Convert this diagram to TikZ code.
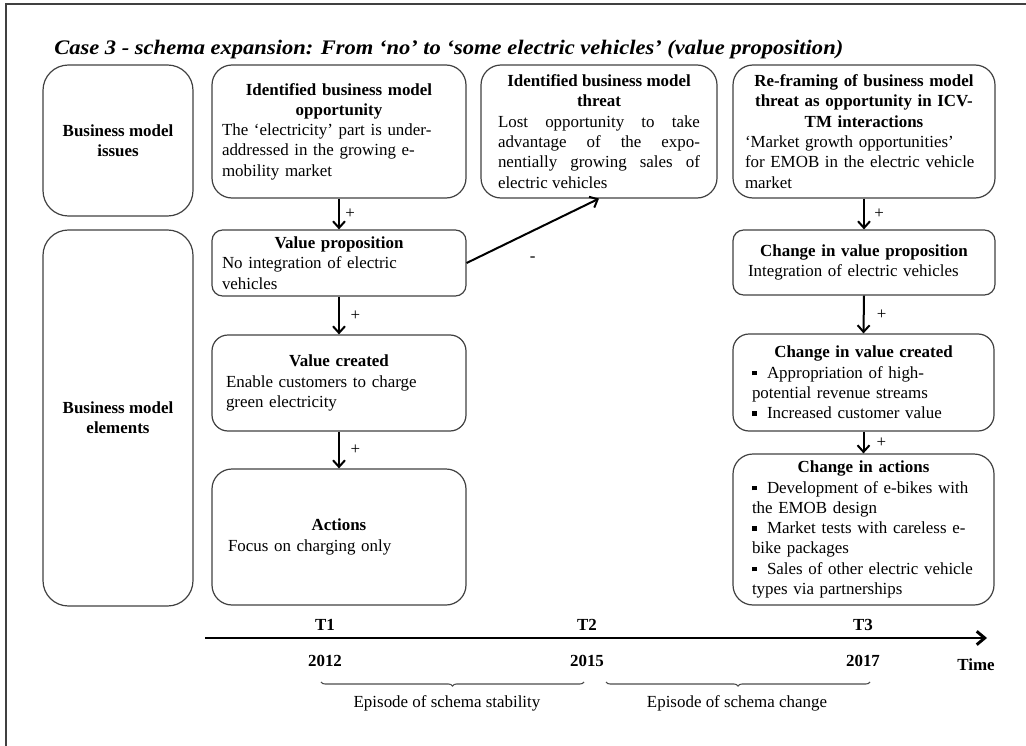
\documentclass[tikz,border=0pt]{standalone}
\usepackage{fontspec}
\usepackage{graphicx}
\setmainfont{Liberation Serif}
\usetikzlibrary{arrows.meta,decorations.pathreplacing}
\newcommand\bodyfont{\fontsize{12.7pt}{15.2pt}\selectfont}
\newcommand\titlefont{\fontsize{15.5pt}{17pt}\selectfont\bfseries\itshape}
\newcommand\bul{\makebox[11.25pt][l]{\rule[2pt]{3.6pt}{3.6pt}}}
\newcommand\bitem{\hangindent=11.25pt\hangafter=1\noindent\bul}
\tikzset{
  box/.style={draw=black!75, line width=0.9pt, inner xsep=0pt, inner ysep=0pt, font=\bodyfont},
  side/.style={box, rounded corners=19pt, align=center, minimum width={150*0.75pt}},
  arr/.style={line width=1.5pt, -{Straight Barb[length=5pt,width=9pt]}},
  pl/.style={font=\bodyfont, inner sep=0pt},
  tl/.style={line width=2.2pt, -{Straight Barb[length=6pt,width=10pt]}},
  tlab/.style={font=\bodyfont\bfseries, inner sep=0pt},
  brc/.style={line width=0.8pt, draw=black!70, decorate, decoration={brace, mirror, amplitude=3pt}},
  frame/.style={line width=1.5pt, draw=black!75},
}
\begin{document}
\begin{tikzpicture}[x=0.75pt, y=-0.75pt]
\useasboundingbox (0,0) rectangle (1026,746);
\draw[frame] (6,746) -- (6,4) -- (1026,4);

\node[anchor=base west, font=\titlefont, inner sep=0pt] (title) at (54,55)
  {\scalebox{1.09}[1]{Case 3 - schema expansion: From ‘no’ to ‘some electric vehicles’ (value proposition)}};

% side boxes
\node[side, minimum height={151*0.75pt}] (issues) at (118,140.5) {\bfseries Business model\\\bfseries issues};
\node[side, minimum height={376*0.75pt}] (elements) at (118,418) {\bfseries Business model\\\bfseries elements};

% left column
\node[box, rounded corners=15pt, align=left, minimum width={254*0.75pt}, minimum height={133*0.75pt}, text width={234*0.75pt}] (opp) at (339,131.5)
  {{\centering\bfseries Identified business model\\opportunity\par}The ‘electricity’ part is under-\\addressed in the growing e-\\mobility market};
\node[box, rounded corners=8pt, align=left, minimum width={254*0.75pt}, minimum height={66*0.75pt}, text width={234*0.75pt}] (vp) at (339,263)
  {{\centering\bfseries Value proposition\par}No integration of electric\\vehicles};
\node[box, rounded corners=12pt, align=left, minimum width={254*0.75pt}, minimum height={96*0.75pt}, text width={226*0.75pt}] (vc) at (339,383)
  {{\centering\bfseries Value created\par}Enable customers to charge\\green electricity};
\node[box, rounded corners=15pt, align=left, minimum width={254*0.75pt}, minimum height={136*0.75pt}, text width={222*0.75pt}] (act) at (339,537)
  {{\centering\bfseries Actions\par}Focus on charging only};

% middle
\node[box, rounded corners=15pt, align=justify, minimum width={236*0.75pt}, minimum height={133*0.75pt}, text width={202*0.75pt}] (threat) at (599,131.5)
  {{\centering\bfseries Identified business model\\threat\par}Lost opportunity to take\linebreak advantage of the expo-\linebreak nentially growing sales of\linebreak electric vehicles};

% right column
\node[box, rounded corners=15pt, align=left, minimum width={262*0.75pt}, minimum height={133*0.75pt}, text width={238*0.75pt}] (reframe) at (864,131.5)
  {{\centering\bfseries Re-framing of business model\\threat as opportunity in ICV-\\TM interactions\par}‘Market growth opportunities’\\for EMOB in the electric vehicle\\market};
\node[box, rounded corners=8pt, align=left, minimum width={262*0.75pt}, minimum height={65*0.75pt}, text width={232*0.75pt}] (cvp) at (864,262.5)
  {{\centering\bfseries Change in value proposition\par}Integration of electric vehicles};
\node[box, rounded corners=12pt, align=left, minimum width={261*0.75pt}, minimum height={97*0.75pt}, text width={223*0.75pt}] (cvc) at (863.5,382.5)
  {{\centering\bfseries Change in value created\par}\bitem Appropriation of high-\\potential revenue streams\par\bitem Increased customer value};
\node[box, rounded corners=15pt, align=left, minimum width={261*0.75pt}, minimum height={151*0.75pt}, text width={223*0.75pt}] (ca) at (863.5,529.5)
  {{\centering\bfseries Change in actions\par}\bitem Development of e-bikes with\\the EMOB design\par\bitem Market tests with careless e-\\bike packages\par\bitem Sales of other electric vehicle\\types via partnerships};

% arrows
\draw[arr] (opp.south) -- (vp.north) node[pl, midway, right=4pt] {+};
\draw[arr] (vp.south) -- (vc.north) node[pl, midway, right=8pt] {+};
\draw[arr] (vc.south) -- (act.north) node[pl, midway, right=8pt] {+};
\draw[arr] (reframe.south) -- (cvp.north) node[pl, midway, right=7pt] {+};
\draw[arr] (cvp.south) -- (cvc.north) node[pl, midway, right=9pt] {+};
\draw[arr] (cvc.south) -- (ca.north) node[pl, midway, right=9pt] {+};
\draw[arr] (vp.east) -- (threat.south) node[pl, midway, yshift=-21pt] {-};

% timeline
\coordinate (ts) at (205,638);
\coordinate (te) at (987,638);
\draw[tl] (ts) -- (te);
\node[tlab] (t1) at (325,625) {T1};
\node[tlab] (t2) at (587,625) {T2};
\node[tlab] (t3) at (863,625) {T3};
\node[tlab] (y1) at (325,661) {2012};
\node[tlab] (y2) at (587,661) {2015};
\node[tlab] (y3) at (863,661) {2017};
\node[tlab] (time) at (976,665) {Time};
\coordinate (b1s) at (321,682);
\coordinate (b1e) at (584,682);
\coordinate (b2s) at (606,682);
\coordinate (b2e) at (870,682);
\draw[brc] (b1s) -- (b1e);
\draw[brc] (b2s) -- (b2e);
\node[pl] (ep1) at (447,703) {Episode of schema stability};
\node[pl] (ep2) at (737,703) {Episode of schema change};
\end{tikzpicture}
\end{document}
